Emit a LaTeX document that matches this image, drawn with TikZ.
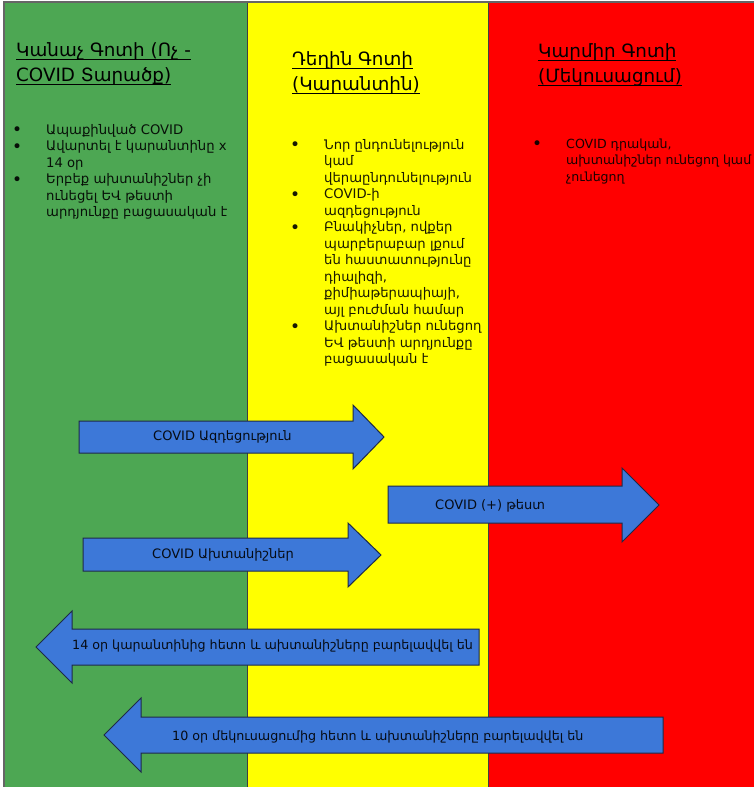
\documentclass[tikz,border=0pt]{standalone}
\usepackage{fontspec}
\setmainfont{DejaVu Sans}
\definecolor{zgreen}{HTML}{4DA753}
\definecolor{zyellow}{HTML}{FFFF00}
\definecolor{zred}{HTML}{FF0000}
\definecolor{arrowblue}{HTML}{3D78D8}
\definecolor{arrowline}{HTML}{1E2A48}
\newcommand{\ulx}[1]{\setbox0\hbox{#1}\rlap{\rule[-3.5pt]{\wd0}{1.2pt}}\box0}
\newcommand{\bul}{\llap{\makebox[34pt][l]{\raisebox{-1.3pt}{\fontsize{17}{16.5}\selectfont •}}}}
\begin{document}
\begin{tikzpicture}[x=1pt,y=-1pt,
  sep/.style={draw=black!75, line width=0.8pt},
  arrowshape/.style={fill=arrowblue, draw=arrowline, line width=1pt, line join=miter},
  title/.style={anchor=north west, inner sep=0pt, align=left, font=\fontsize{18.3}{25}\selectfont},
  body/.style={anchor=north west, inner sep=0pt, align=left, font=\fontsize{13.2}{16.5}\selectfont, text opacity=0.9},
  lab/.style={anchor=west, inner sep=0pt, font=\fontsize{13}{16}\selectfont, text opacity=0.9}]
\useasboundingbox (0,0) rectangle (754,787);
\fill[white] (0,0) rectangle (754,787);
\fill[zgreen] (4,3) rectangle (247,787);
\fill[zyellow] (247,3) rectangle (488,787);
\fill[zred] (488,3) rectangle (754,787);
\draw[sep] (247,3) -- (247,787);
\draw[sep] (488,3) -- (488,787);
\draw[black!60, line width=2pt] (4,787) -- (4,2) -- (754,2);

% titles
\node[title] (tg) at (16,56-17.5) {\strut\ulx{Կանաչ Գոտի (Ոչ -}\\\ulx{COVID Տարածք)}};
\node[title] (ty) at (292,65-17.5) {\strut\ulx{Դեղին Գոտի}\\\ulx{(Կարանտին)}};
\node[title] (tr) at (538,57-17.5) {\strut\ulx{Կարմիր Գոտի}\\\ulx{(Մեկուսացում)}};

% lists
\node[body] (lg) at (46,134-11.55) {\strut\bul Ապաքինված COVID\\
\bul Ավարտել է կարանտինը x\\14 օր\\
\bul Երբեք ախտանիշներ չի\\ունեցել ԵՎ թեստի\\արդյունքը բացասական է};
\node[body] (ly) at (324,149-11.55) {\strut\bul Նոր ընդունելություն\\կամ\\վերաընդունելություն\\
\bul COVID-ի\\ազդեցություն\\
\bul Բնակիչներ, ովքեր\\պարբերաբար լքում\\են հաստատությունը\\դիալիզի,\\քիմիաթերապիայի,\\այլ բուժման համար\\
\bul Ախտանիշներ ունեցող\\ԵՎ թեստի արդյունքը\\բացասական է};
\node[body,font=\fontsize{12.6}{16.5}\selectfont] (lr) at (566,148-11.55) {\strut\bul COVID դրական,\\ախտանիշներ ունեցող կամ\\չունեցող};

% arrows
\draw[arrowshape] (79,421) -- (353,421) -- (353,405) -- (384,437) -- (353,469) -- (353,453) -- (79,453) -- cycle;
\node[lab] (a1) at (153,437) {COVID Ազդեցություն};

\draw[arrowshape] (388,486) -- (622,486) -- (622,468) -- (659,505) -- (622,542) -- (622,523) -- (388,523) -- cycle;
\node[lab] (a2) at (435,506) {COVID (+) թեստ};

\draw[arrowshape] (83,538) -- (348,538) -- (348,523) -- (381,555) -- (348,587) -- (348,571) -- (83,571) -- cycle;
\node[lab] (a3) at (152,555) {COVID Ախտանիշներ};

\draw[arrowshape] (479,629) -- (72,629) -- (72,611) -- (36,647) -- (72,683) -- (72,665) -- (479,665) -- cycle;
\node[lab,font=\fontsize{12.7}{16}\selectfont] (a4) at (72,646) {14 օր կարանտինից հետո և ախտանիշները բարելավվել են};

\draw[arrowshape] (663,717) -- (141,717) -- (141,698) -- (104,735) -- (141,772) -- (141,753) -- (663,753) -- cycle;
\node[lab,font=\fontsize{12.7}{16}\selectfont] (a5) at (172,737) {10 օր մեկուսացումից հետո և ախտանիշները բարելավվել են};
\end{tikzpicture}
\end{document}
